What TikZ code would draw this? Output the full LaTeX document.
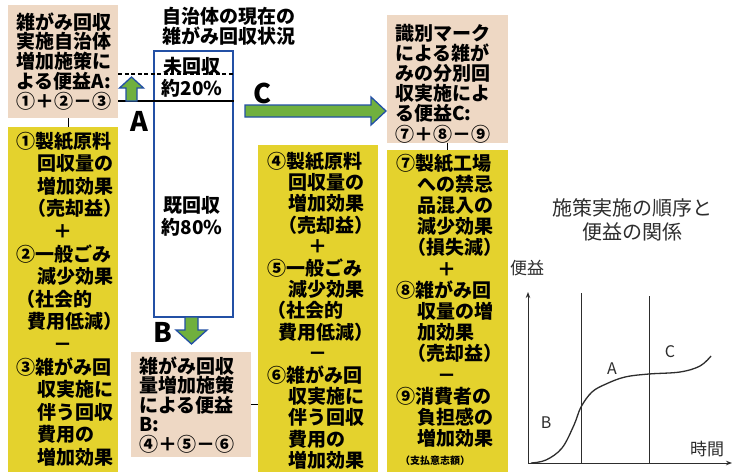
\documentclass[tikz,border=0pt]{standalone}
\usepackage{fontspec}
\setmainfont{Noto Sans CJK JP}
\usetikzlibrary{arrows.meta}
\definecolor{beige}{RGB}{238,216,196}
\definecolor{ylw}{RGB}{228,210,45}
\definecolor{grn}{RGB}{112,176,62}
\definecolor{blu}{RGB}{35,80,165}
\definecolor{txtgray}{RGB}{45,45,45}
\tikzset{
  beigebox/.style={fill=beige,draw=none,anchor=north west,inner sep=0pt},
  ylwbox/.style={fill=ylw,draw=none,anchor=north west,inner sep=0pt},
  jt/.style={font=\fontsize{19}{20}\selectfont\bfseries,anchor=base west,inner sep=0pt},
  jtc/.style={font=\fontsize{19}{20}\selectfont\bfseries,anchor=base,inner sep=0pt},
  biglbl/.style={font=\fontsize{27}{28}\selectfont\bfseries,inner sep=0pt},
  blockarrow/.style={fill=grn,draw=blu,line width=1.3pt,line join=miter},
  link/.style={draw=black,line width=1pt},
  graphtxt/.style={text=txtgray,inner sep=0pt},
  axis/.style={draw=txtgray,line width=1pt,-{Stealth[length=6pt,width=4.5pt]}}
}
\begin{document}
\begin{tikzpicture}[x=1pt,y=-1pt]
\useasboundingbox[fill=white] (0,0) rectangle (735,471);

% ---------- boxes ----------
\node[beigebox,minimum width=110pt,minimum height=113pt] (boxA) at (8,5) {};
\node[ylwbox,minimum width=110pt,minimum height=345pt] (y1) at (8,127) {};
\node[beigebox,minimum width=121pt,minimum height=128pt] (boxC) at (387,15) {};
\node[ylwbox,minimum width=121pt,minimum height=322pt] (y3) at (387,150) {};
\node[ylwbox,minimum width=120pt,minimum height=327pt] (y2) at (258,145) {};
\node[beigebox,minimum width=120pt,minimum height=105pt] (boxB) at (131,352) {};

% connectors
\draw[link] ([xshift=5pt]boxA.south) -- ([xshift=5pt]y1.north);
\draw[link] (boxC.south) -- (y3.north);
\draw[link] (boxB.east) -- (boxB.east -| y2.west);

% ---------- box A text ----------
\foreach \t [count=\i] in {雑がみ回収,実施自治体,増加施策に,よる便益A:,①＋②－③}
  \node[jt] (ta\i) at (16,{29+(\i-1)*19.8}) {\t};

% ---------- yellow box 1 ----------
\foreach \t [count=\i] in {①製紙原料,\hspace*{1.1em}回収量の,\hspace*{1.1em}増加効果,\hspace*{0.6em}（売却益）,\makebox[94pt]{＋},②一般ごみ,\hspace*{1.1em}減少効果,（社会的,\hspace*{0.6em}費用低減）,\makebox[94pt]{－},③雑がみ回,\hspace*{1.1em}収実施に,\hspace*{1.1em}伴う回収,\hspace*{1.1em}費用の,\hspace*{1.1em}増加効果}
  \node[jt] (t1-\i) at (16,{148+(\i-1)*22.6}) {\t};

% ---------- yellow box 2 ----------
\foreach \t [count=\i] in {④製紙原料,\hspace*{1.1em}回収量の,\hspace*{1.1em}増加効果,\hspace*{0.6em}（売却益）,\makebox[102pt]{＋},⑤一般ごみ,\hspace*{1.1em}減少効果,（社会的,\hspace*{0.6em}費用低減）,\makebox[102pt]{－},⑥雑がみ回,\hspace*{1.1em}収実施に,\hspace*{1.1em}伴う回収,\hspace*{1.1em}費用の,\hspace*{1.1em}増加効果}
  \node[jt] (t2-\i) at (267,{168+(\i-1)*21.4}) {\t};

% ---------- yellow box 3 ----------
\foreach \t [count=\i] in {⑦製紙工場,\hspace*{1.1em}への禁忌,\hspace*{1.1em}品混入の,\hspace*{1.1em}減少効果,\hspace*{0.6em}（損失減）,\makebox[102pt]{＋},⑧雑がみ回,\hspace*{1.1em}収量の増,\hspace*{1.1em}加効果,\hspace*{0.6em}（売却益）,\makebox[102pt]{－},⑨消費者の,\hspace*{1.1em}負担感の,\hspace*{1.1em}増加効果}
  \node[jt] (t3-\i) at (396,{170+(\i-1)*21.2}) {\t};
\node[font=\fontsize{10}{11}\selectfont\bfseries,anchor=base west,inner sep=0pt] (t3-15) at (400,464) {（支払意志額）};

% ---------- box B / C text ----------
\foreach \t [count=\i] in {雑がみ回収,量増加施策,による便益,B:,④＋⑤－⑥}
  \node[jt] (tb\i) at (139,{373+(\i-1)*19.6}) {\t};
\foreach \t [count=\i] in {識別マーク,による雑が,みの分別回,収実施によ,る便益C:,⑦＋⑧－⑨}
  \node[jt] (tc\i) at (395,{40+(\i-1)*20.2}) {\t};

% ---------- centre column ----------
\node[jt,font=\fontsize{19}{20}\selectfont\bfseries] (tt1) at (162,23) {自治体の現在の};
\node[jt,font=\fontsize{19}{20}\selectfont\bfseries] (tt2) at (162,43) {雑がみ回収状況};

\node[draw=blu,line width=2.4pt,fill=white,anchor=north west,minimum width=79pt,minimum height=266pt,inner sep=0pt] (col) at (153,50) {};
\node[jtc] (u1) at (192,73) {未回収};
\node[jtc] (u2) at (192,95) {約20\%};
\node[jtc] (k1) at (192,212) {既回収};
\node[jtc] (k2) at (192,234) {約80\%};

\coordinate (dashY) at (0,74);
\coordinate (solY) at (0,101);
\draw[black,line width=1.2pt,dash pattern=on 4pt off 2.5pt] (boxA.east |- dashY) -- (col.east |- dashY);
\draw[black,line width=2pt] (boxA.east |- solY) -- (col.east |- solY);

% up arrow A
\draw[blockarrow] (126,101) -- (126,88) -- (119.5,88) -- (131.5,77) -- (143.5,88) -- (137,88) -- (137,101) -- cycle;
\node[biglbl] (lA) at (139,121) {A};

% right arrow C
\draw[blockarrow] (245,105) -- (371,105) -- (371,97) -- (386,111) -- (371,125) -- (371,117) -- (245,117) -- cycle;
\node[biglbl] (lC) at (262,93) {C};

% down arrow B
\draw[blockarrow] (185,317) -- (198,317) -- (198,330) -- (207,330) -- (191.5,344) -- (176,330) -- (185,330) -- cycle;
\node[biglbl] (lB) at (163,332) {B};

% ---------- right graph ----------
\node[graphtxt,font=\fontsize{20}{22}\selectfont] (g1) at (632,208) {施策実施の順序と};
\node[graphtxt,font=\fontsize{20}{22}\selectfont] (g2) at (632,232) {便益の関係};
\node[graphtxt,font=\fontsize{17}{19}\selectfont] (gy) at (527,268) {便益};
\node[graphtxt,font=\fontsize{17}{19}\selectfont] (gx) at (707,449) {時間};

\coordinate (o) at (528,463);
\coordinate (ytop) at (528,292);
\coordinate (xend) at (732,463);
\draw[axis] (o) -- (ytop);
\draw[axis] (o) -- (xend);
\draw[txtgray,line width=0.8pt] (581,293) -- (581,463);
\draw[txtgray,line width=0.8pt] (649,296) -- (649,463);
\draw[txtgray,line width=1.3pt] plot[smooth,tension=0.6] coordinates {(531,463) (546,460) (562,448) (574,425) (581,407) (592,392) (606,384) (625,377) (649,374) (680,372) (700,366) (711,356)};
\node[graphtxt,font=\fontsize{16}{18}\selectfont] (cB) at (546,423) {B};
\node[graphtxt,font=\fontsize{16}{18}\selectfont] (cA) at (612,369) {A};
\node[graphtxt,font=\fontsize{16}{18}\selectfont] (cC) at (670,352) {C};
\end{tikzpicture}
\end{document}
